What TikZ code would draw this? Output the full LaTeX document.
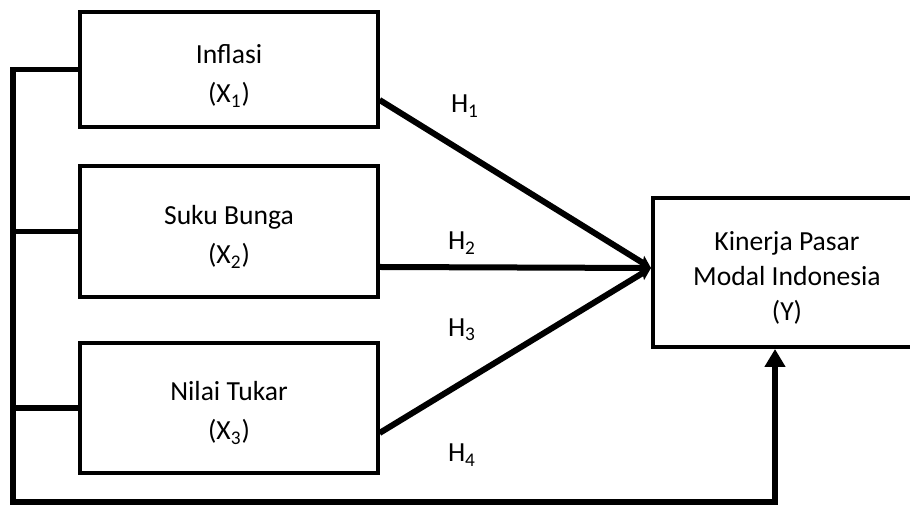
\documentclass[tikz,border=0pt]{standalone}
\usepackage{fontspec}
\setmainfont{Carlito}
\usetikzlibrary{arrows.meta}
\tikzset{
  varbox/.style={draw=black, line width=1.6pt, fill=white, minimum width=149pt, inner sep=0pt},
  boxtext/.style={align=center, font=\fontsize{13.8}{19.5}\selectfont, inner sep=0pt},
  bus/.style={line width=2.6pt},
  arr/.style={line width=3pt, -{Stealth[length=6pt,width=6.5pt,inset=1pt]}},
  hlabel/.style={font=\fontsize{13.8}{16}\selectfont, inner sep=0pt}
}
\begin{document}
\begin{tikzpicture}[x=0.5pt,y=-0.5pt]
\clip (0,0) rectangle (910,506);
\fill[white] (0,0) rectangle (910,506);
\node[varbox, minimum height=57.5pt] (b1) at (229,69.5) {};
\node[varbox, minimum height=65.5pt] (b2) at (229,231.5) {};
\node[varbox, minimum height=65pt] (b3) at (229,408) {};
\node[varbox, minimum width=134pt, minimum height=74.5pt] (y) at (787,272.5) {};
\node[boxtext] (t1) at (229,76) {Inflasi\\(X\textsubscript{1})};
\node[boxtext] (t2) at (229,237) {Suku Bunga\\(X\textsubscript{2})};
\node[boxtext] (t3) at (229,413) {Nilai Tukar\\(X\textsubscript{3})};
\node[boxtext, font=\fontsize{13.8}{17.5}\selectfont] (ytxt) at (787,278) {Kinerja Pasar\\Modal Indonesia\\(Y)};
\coordinate (bl) at (13,502);
\coordinate (conv) at (651,268);
\coordinate (ya) at (775,349);
\draw[bus, -{Triangle[length=9pt,width=10pt]}] (b1.west) -| (bl) -| (ya);
\draw[bus] (b2.west) -- (b2.west -| bl);
\draw[bus] (b3.west) -- (b3.west -| bl);
\draw[arr] (b1.east |- 0,100) -- (conv);
\draw[arr] (b2.east |- 0,267) -- (conv);
\draw[arr] (b3.east |- 0,433) -- (conv);
\node[hlabel] (h1) at (465,106) {H\textsubscript{1}};
\node[hlabel] (h2) at (462,243) {H\textsubscript{2}};
\node[hlabel] (h3) at (462,330) {H\textsubscript{3}};
\node[hlabel] (h4) at (462,455) {H\textsubscript{4}};
\end{tikzpicture}
\end{document}
